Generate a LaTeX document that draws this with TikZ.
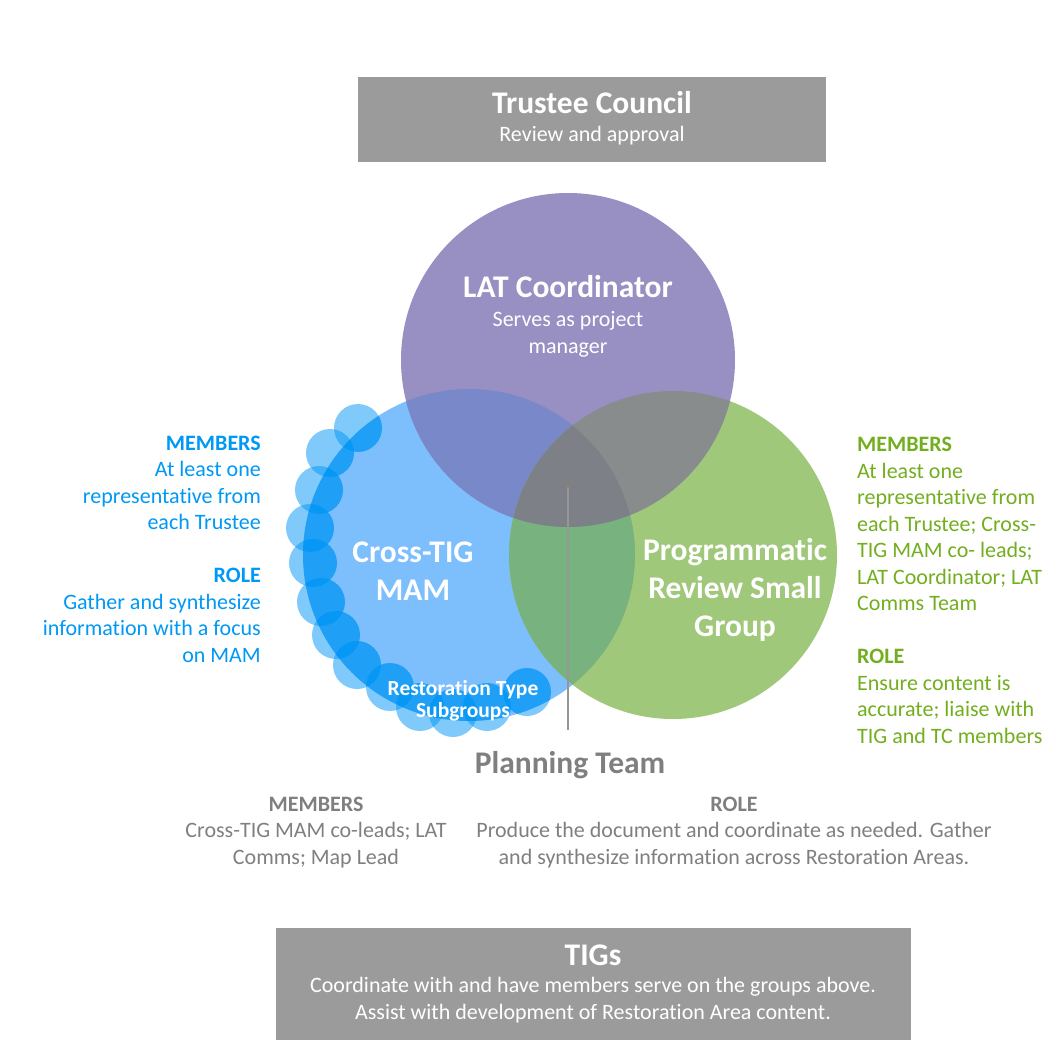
\documentclass[tikz,border=0pt]{standalone}
\usepackage{fontspec}
\setmainfont{Carlito}[RawFeature=-liga]
\definecolor{boxgray}{RGB}{155,155,155}
\definecolor{latpurple}{RGB}{152,144,194}
\definecolor{mamblue}{RGB}{125,190,252}
\definecolor{prgreen}{RGB}{160,200,122}
\definecolor{pbmix}{RGB}{121,136,200}
\definecolor{pgmix}{RGB}{136,140,141}
\definecolor{bgmix}{RGB}{120,178,126}
\definecolor{pbgmix}{RGB}{125,128,135}
\definecolor{bubble}{RGB}{0,150,245}
\definecolor{bluetxt}{RGB}{0,152,245}
\definecolor{greentxt}{RGB}{114,174,30}
\definecolor{graytxt}{RGB}{127,127,127}
\definecolor{linegray}{RGB}{150,150,150}
\begin{document}
\begin{tikzpicture}[x=1pt,y=-1pt,
  panel/.style={fill=boxgray,draw=none},
  headtxt/.style={font=\fontsize{31.5}{38}\selectfont\bfseries,inner sep=0pt,align=center},
  bodytxt/.style={font=\fontsize{22}{26.5}\selectfont,inner sep=0pt},
  subtxt/.style={font=\fontsize{21.5}{22}\selectfont\bfseries,inner sep=0pt,align=center,text=white},
  bubout/.style={fill=bubble,fill opacity=0.5},
  bubin/.style={fill=bubble,fill opacity=0.75}]
\useasboundingbox (0,0) rectangle (1063,1043);

% circle geometry
\def\latc{(568,360) circle (167pt)}
\def\mamc{(469,555) circle (166pt)}
\def\prc{(673,555) circle (164pt)}
\def\bubbles{(358,428),(330,453),(319,490),(310,528),(313,563),(321,602),(336,635),(357,665),(390,687),(420,707),(453,713),(487,707),(527,692)}

% top and bottom panels
\fill[panel] (358,77) rectangle (826,162);
\fill[panel] (276,928) rectangle (911,1040);

% subgroup bubbles outside the Cross-TIG circle
\foreach \p in \bubbles { \fill[bubout] \p circle (24pt); }

% three main circles
\fill[mamblue] \mamc;
\fill[prgreen] \prc;
\fill[latpurple] \latc;

% pairwise overlaps
\begin{scope}\clip \latc; \fill[pbmix] \mamc; \end{scope}
\begin{scope}\clip \latc; \fill[pgmix] \prc; \end{scope}
\begin{scope}\clip \mamc; \fill[bgmix] \prc; \end{scope}
\begin{scope}\clip \latc; \clip \mamc; \fill[pbgmix] \prc; \end{scope}

% bubbles inside the Cross-TIG circle
\begin{scope}\clip \mamc;
  \foreach \p in \bubbles { \fill[bubin] \p circle (24pt); }
\end{scope}

% panel texts (multi-line nodes are anchored at the baseline of their last line)
\node[headtxt,text=white,anchor=base] (tc) at (592,114) {Trustee Council};
\node[bodytxt,text=white,anchor=base] (tcsub) at (592,142) {Review and approval};
\node[headtxt,text=white,anchor=base] (tigs) at (593,965) {TIGs};
\node[bodytxt,text=white,anchor=base,align=center] (tigssub) at (593,1019)
  {Coordinate with and have members serve on the groups above.\\Assist with development of Restoration Area content.};

% circle texts
\node[headtxt,text=white,anchor=base] (lat) at (568,297) {LAT Coordinator};
\node[bodytxt,text=white,anchor=base,align=center] (latsub) at (568,353) {Serves as project\\manager};
\node[headtxt,text=white,anchor=base] (mam) at (413,600) {Cross-TIG\\MAM};
\node[headtxt,text=white,anchor=base] (prsg) at (735,636) {Programmatic\\Review Small\\Group};
\node[subtxt,anchor=base] (rts) at (463,717) {Restoration Type\\Subgroups};

% planning team and its pointer
\node[headtxt,text=graytxt,anchor=base] (plan) at (570,773) {Planning Team};
\coordinate (hub) at (568,483);
\coordinate (hubend) at (568,730);
\draw[linegray,line width=1.6pt] (hub) -- (hubend);
\fill[linegray!85!black] (hub) circle (4.5pt);

% side descriptions
\node[bodytxt,text=bluetxt,anchor=base east,align=right] (mamdesc) at (261,662)
  {\textbf{MEMBERS}\\At least one\\representative from\\each Trustee\\[26.5pt]\textbf{ROLE}\\Gather and synthesize\\information with a focus\\on MAM};
\node[bodytxt,text=greentxt,anchor=base west,align=left] (prdesc) at (857,743)
  {\textbf{MEMBERS}\\At least one\\representative from\\each Trustee; Cross-\\TIG MAM co- leads;\\LAT Coordinator; LAT\\Comms Team\\[26.5pt]\textbf{ROLE}\\Ensure content is\\accurate; liaise with\\TIG and TC members};

% planning team details
\node[bodytxt,text=graytxt,anchor=base,align=center] (planmem) at (316,864)
  {\textbf{MEMBERS}\\Cross-TIG MAM co-leads; LAT\\Comms; Map Lead};
\node[bodytxt,text=graytxt,anchor=base,align=center] (planrole) at (734,864)
  {\textbf{ROLE}\\Produce the document and coordinate as needed. Gather\\and synthesize information across Restoration Areas.};
\end{tikzpicture}
\end{document}
